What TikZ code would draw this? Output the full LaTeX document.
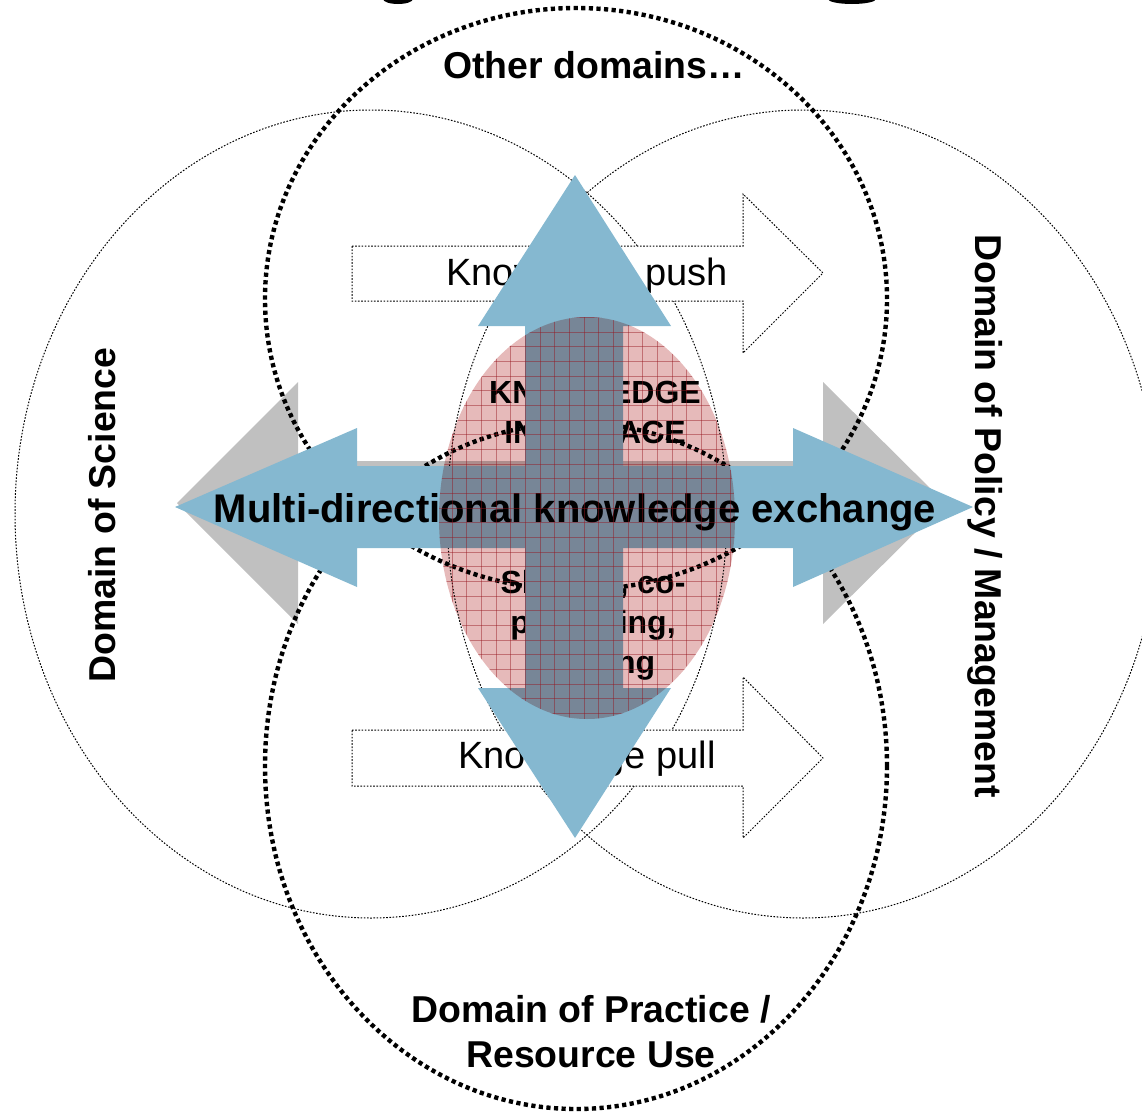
\documentclass[tikz,border=0pt]{standalone}
\usepackage{fontspec}
\setmainfont{Liberation Sans}
\definecolor{xblue}{RGB}{133,184,208}
\definecolor{xgray}{RGB}{192,192,192}
\definecolor{xpink}{RGB}{230,186,186}
\definecolor{xgrid}{RGB}{150,20,30}
\begin{document}
\begin{tikzpicture}[x=0.5pt,y=-0.5pt,
  thindot/.style={line width=0.5pt, dash pattern=on 0.8pt off 0.8pt},
  thickdot/.style={line width=2.2pt, dash pattern=on 2.1pt off 1.7pt},
  domainlabel/.style={font=\fontsize{18.7pt}{22.5pt}\selectfont\bfseries, inner sep=0pt},
  flowlabel/.style={font=\fontsize{19pt}{22pt}\selectfont, inner sep=0pt, anchor=base},
  ifacelabel/.style={font=\fontsize{16pt}{20pt}\selectfont\bfseries, inner sep=0pt, anchor=base},
  pusharrow/.style={fill=white, draw=black, thindot},
  bluearrow/.style={fill=xblue},
  grayarrow/.style={fill=xgray},
  gridline/.style={draw=xgrid, line width=0.3pt, draw opacity=0.45}]
\useasboundingbox (0,0) rectangle (1142,1114);
\clip (0,0) rectangle (1142,1114);
% title fragments at the top edge
\fill (398,-1) ellipse [x radius=7.5pt, y radius=2.5pt];
\fill (852,-1) ellipse [x radius=12pt, y radius=2.5pt];
% gray double arrow
\fill[grayarrow] (177,503) -- (298,382) -- (298,461) -- (823,461) -- (823,382) -- (945,503)
  -- (823,624) -- (823,545) -- (298,545) -- (298,624) -- cycle;
% big thin domain circles
\draw[thindot] (371,514) ellipse [x radius=178pt, y radius=202pt];
\draw[thindot] (803,514) ellipse [x radius=178pt, y radius=202pt];
% thick dotted circles
\draw[thickdot] (576,299) ellipse [x radius=155.5pt, y radius=145.5pt];
\draw[thickdot] (576,766) ellipse [x radius=155.5pt, y radius=171.5pt];
% push / pull arrows
\draw[pusharrow] (352,246) -- (743,246) -- (743,194) -- (823,273) -- (743,353) -- (743,301) -- (352,301) -- cycle;
\draw[pusharrow] (352,730) -- (743,730) -- (743,677) -- (823,758) -- (743,838) -- (743,786) -- (352,786) -- cycle;
\node[flowlabel] (push) at (587,285) {Knowledge push};
\node[flowlabel] (pull) at (587,768) {Knowledge pull};
% interface texts
\node[ifacelabel] (if1) at (595,403) {KNOWLEDGE};
\node[ifacelabel] (if2) at (595,443) {INTERFACE};
\node[ifacelabel] (sh1) at (593,593) {Sharing, co-};
\node[ifacelabel] (sh2) at (593,633) {producing,};
\node[ifacelabel] (sh3) at (593,673) {learning};
% blue arrows
\fill[bluearrow] (175,507) -- (357,428) -- (357,466) -- (793,466) -- (793,428) -- (973,507)
  -- (793,587) -- (793,548) -- (357,548) -- (357,587) -- cycle;
\fill[bluearrow] (575,175) -- (671,326) -- (623,326) -- (623,688) -- (671,688) -- (575,838)
  -- (478,688) -- (525,688) -- (525,326) -- (478,326) -- cycle;
\node[font=\fontsize{20pt}{24pt}\selectfont\bfseries, inner sep=0pt, anchor=base] (multi) at (575,522) {Multi-directional knowledge exchange};
% knowledge interface ellipse
\begin{scope}[blend mode=multiply]
\fill[xpink] (587,518) ellipse [x radius=74pt, y radius=100.5pt];
\end{scope}
\begin{scope}
\clip (587,518) ellipse [x radius=74pt, y radius=100.5pt];
\foreach \k in {-2,...,20} \draw[gridline] ({466.7+14.67*\k},300) -- ({466.7+14.67*\k},740);
\foreach \k in {-3,...,27} \draw[gridline] (420,{346.7+14.67*\k}) -- (760,{346.7+14.67*\k});
\end{scope}
% domain labels
\node[domainlabel, rotate=90] (science) at (102,515) {Domain of Science};
\node[domainlabel, rotate=-90] (policy) at (985,516) {Domain of Policy / Management};
\node[domainlabel, anchor=base] (other) at (594,78) {Other domains…};
\node[domainlabel, align=center] (practice) at (591,1032) {Domain of Practice /\\Resource Use};
\end{tikzpicture}
\end{document}
